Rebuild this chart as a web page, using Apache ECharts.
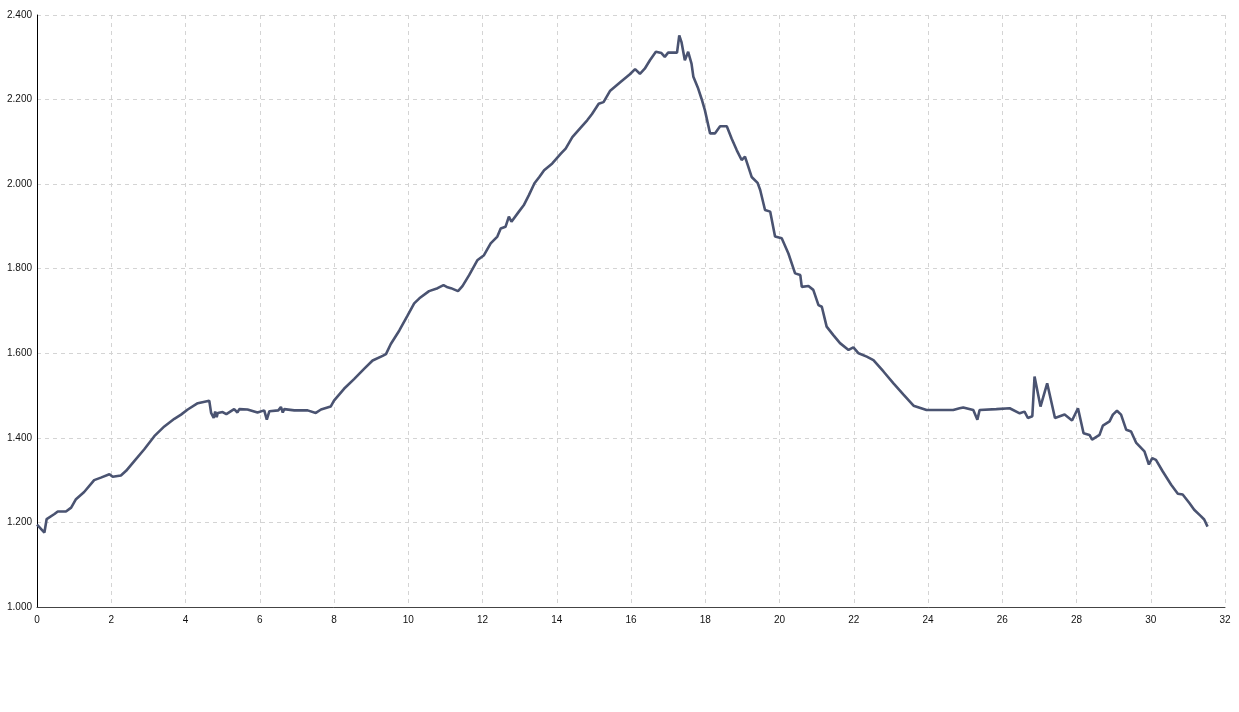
<!DOCTYPE html>
<html>
<head>
<meta charset="utf-8">
<script src="https://cdn.jsdelivr.net/npm/echarts@6/dist/echarts.min.js"></script>
<style>
html,body{margin:0;padding:0;background:#fff;}
#chart{width:1239px;height:712px;}
</style>
</head>
<body>
<div id="chart"></div>
<script>
// distance (km) and elevation (m)
const distance = [
  0, 0.2, 0.26, 0.47, 0.56, 0.78, 0.92, 1.05, 1.27, 1.54, 1.72, 1.95, 2.04, 2.26, 2.40, 2.62, 2.89, 3.16, 3.43, 3.70,
  3.88, 4.06, 4.33, 4.64, 4.69, 4.76, 4.80, 4.84, 4.87, 5.0, 5.1, 5.31, 5.40, 5.45, 5.67, 5.94, 6.12, 6.19, 6.26, 6.50,
  6.57, 6.62, 6.66, 6.93, 7.29, 7.51, 7.65, 7.91, 8.0, 8.27, 8.54, 8.81, 9.04, 9.31, 9.40, 9.53, 9.76, 9.98, 10.16, 10.30,
  10.56, 10.79, 10.95, 11.06, 11.15, 11.34, 11.46, 11.64, 11.86, 12.04, 12.22, 12.40, 12.49, 12.62, 12.71, 12.78, 12.98, 13.11, 13.25, 13.40,
  13.53, 13.66, 13.88, 14.11, 14.24, 14.42, 14.64, 14.82, 14.95, 15.13, 15.26, 15.44, 15.71, 15.97, 16.11, 16.24, 16.37, 16.51, 16.67, 16.82,
  16.91, 17.0, 17.24, 17.30, 17.36, 17.45, 17.54, 17.63, 17.68, 17.81, 17.90, 17.99, 18.13, 18.26, 18.40, 18.58, 18.71, 18.85, 18.98, 19.07,
  19.25, 19.41, 19.48, 19.61, 19.75, 19.88, 20.06, 20.24, 20.42, 20.56, 20.60, 20.78, 20.91, 21.05, 21.14, 21.27, 21.45, 21.63, 21.86, 21.99,
  22.13, 22.35, 22.53, 22.80, 23.07, 23.34, 23.61, 23.96, 24.32, 24.68, 24.85, 24.95, 25.22, 25.33, 25.39, 25.84, 26.20, 26.47, 26.60, 26.69,
  26.81, 26.87, 27.03, 27.21, 27.42, 27.68, 27.88, 28.04, 28.19, 28.35, 28.42, 28.62, 28.71, 28.89, 28.98, 29.09, 29.20, 29.34, 29.47, 29.61,
  29.83, 29.95, 30.04, 30.14, 30.32, 30.55, 30.73, 30.86, 31.04, 31.17, 31.35, 31.44, 31.53
];
const elevation = [
  1195, 1176, 1208, 1220, 1226, 1226, 1235, 1255, 1272, 1300, 1306, 1314, 1308, 1311, 1322, 1345, 1373, 1404, 1427, 1445,
  1455, 1467, 1482, 1488, 1459, 1447, 1462, 1449, 1459, 1461, 1456, 1468, 1460, 1468, 1467, 1460, 1465, 1443, 1463, 1465,
  1473, 1460, 1468, 1465, 1465, 1459, 1467, 1474, 1488, 1516, 1539, 1563, 1583, 1594, 1598, 1622, 1654, 1689, 1718, 1730,
  1747, 1754, 1761, 1756, 1754, 1747, 1759, 1785, 1820, 1832, 1860, 1876, 1895, 1899, 1923, 1911, 1935, 1950, 1974, 2002,
  2017, 2033, 2049, 2072, 2084, 2111, 2133, 2151, 2166, 2190, 2194, 2221, 2241, 2260, 2272, 2261, 2273, 2293, 2313, 2310,
  2301, 2311, 2311, 2352, 2336, 2293, 2313, 2285, 2254, 2226, 2202, 2175, 2120, 2120, 2137, 2137, 2108, 2080, 2057, 2065,
  2017, 2003, 1986, 1939, 1935, 1876, 1872, 1836, 1789, 1785, 1757, 1759, 1750, 1714, 1710, 1663, 1643, 1624, 1608, 1614,
  1600, 1592, 1584, 1557, 1529, 1502, 1476, 1466, 1466, 1466, 1470, 1472, 1466, 1443, 1466, 1468, 1470, 1458, 1462, 1447,
  1451, 1545, 1474, 1529, 1447, 1455, 1441, 1470, 1411, 1407, 1396, 1407, 1429, 1439, 1455, 1464, 1455, 1419, 1415, 1388,
  1368, 1337, 1352, 1348, 1321, 1289, 1268, 1266, 1246, 1230, 1215, 1207, 1190
];
const xMin = 0, xMax = 32, xStep = 2;
const yMin = 1000, yMax = 2400, yStep = 200;

const points = distance.map((d, i) => [d, elevation[i]]);
const fmtThousands = v => {
  const s = String(Math.round(v));
  return s.length > 3 ? s.slice(0, s.length - 3) + '.' + s.slice(-3) : s;
};

const chart = echarts.init(document.getElementById('chart'), null, {renderer: 'canvas'});
chart.setOption({
  animation: false,
  backgroundColor: '#ffffff',
  grid: {left: 37, right: 14, top: 15, bottom: 105, containLabel: false},
  xAxis: {
    type: 'value', min: xMin, max: xMax, interval: xStep,
    axisLine: {show: true, onZero: false, lineStyle: {color: '#444', width: 1}},
    axisTick: {show: false},
    axisLabel: {color: '#111', fontSize: 10, fontFamily: 'Liberation Sans, Arial, sans-serif', margin: 8},
    splitLine: {show: true, lineStyle: {color: '#d4d4d4', type: [4, 4], width: 1}}
  },
  yAxis: {
    type: 'value', min: yMin, max: yMax, interval: yStep,
    axisLine: {show: true, onZero: false, lineStyle: {color: '#000', width: 1}},
    axisTick: {show: false},
    axisLabel: {color: '#111', fontSize: 10, fontFamily: 'Liberation Sans, Arial, sans-serif', margin: 5, formatter: fmtThousands},
    splitLine: {show: true, lineStyle: {color: '#d4d4d4', type: [4, 4], width: 1}}
  },
  series: [{
    type: 'line',
    data: points,
    showSymbol: false,
    symbol: 'none',
    lineStyle: {color: '#4a5371', width: 2.6},
    z: 5
  }]
});
</script>
</body>
</html>
